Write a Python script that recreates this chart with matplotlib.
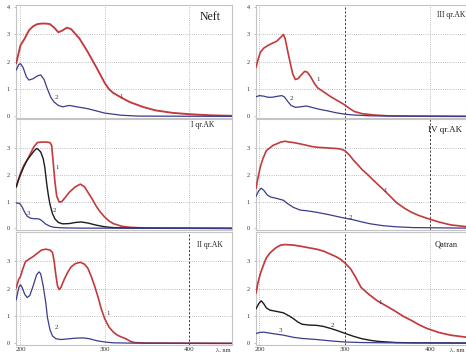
import matplotlib
matplotlib.use("Agg")
import matplotlib.pyplot as plt

plt.rcParams["font.family"] = ["Liberation Serif", "DejaVu Serif"]

# ---- spectra: wavelength (nm) and optical density ----
# Neft
neft_wl_1 = [195, 200, 205, 210, 215, 220, 225, 230, 235, 240, 245, 250, 255, 260, 270, 280, 290, 300,
             305, 310, 320, 330, 345, 360, 380, 400, 425, 451]
neft_od_1 = [1.95, 2.6, 2.85, 3.15, 3.3, 3.38, 3.4, 3.4, 3.38, 3.25, 3.08, 3.15, 3.25, 3.2, 2.85, 2.35, 1.8, 1.22,
             1.0, 0.86, 0.68, 0.52, 0.35, 0.22, 0.13, 0.08, 0.04, 0.02]
neft_wl_2 = [195, 198, 200, 203, 207, 210, 215, 220, 224, 228, 232, 236, 240, 245, 250, 255, 258, 265, 280,
             300, 320, 340, 451]
neft_od_2 = [1.7, 1.9, 1.93, 1.8, 1.45, 1.33, 1.38, 1.48, 1.52, 1.35, 1.0, 0.7, 0.52, 0.4, 0.35, 0.38, 0.4,
             0.36, 0.28, 0.12, 0.04, 0.01, 0.0]

# I qr.AK
ak1_wl_1 = [195, 198, 200, 204, 208, 212, 216, 220, 225, 230, 235, 237, 239, 241, 243, 246, 249, 253, 258,
            265, 271, 276, 280, 285, 290, 295, 300, 305, 310, 320, 330, 350, 451]
ak1_od_1 = [1.55, 1.85, 2.05, 2.35, 2.55, 2.8, 3.05, 3.2, 3.22, 3.22, 3.2, 3.1, 2.4, 1.7, 1.2, 0.98, 1.0, 1.15,
            1.35, 1.55, 1.65, 1.55, 1.35, 1.1, 0.82, 0.6, 0.42, 0.28, 0.18, 0.08, 0.04, 0.01, 0.0]
ak1_wl_2 = [195, 198, 200, 204, 208, 212, 216, 219, 221, 224, 227, 229, 231, 233, 235, 238, 241, 245, 250,
            258, 265, 272, 280, 290, 300, 310, 330, 451]
ak1_od_2 = [1.55, 1.85, 2.0, 2.3, 2.55, 2.72, 2.88, 2.98, 2.95, 2.85, 2.6, 2.25, 1.7, 1.25, 0.9, 0.55, 0.35,
            0.22, 0.17, 0.18, 0.22, 0.24, 0.2, 0.12, 0.06, 0.03, 0.01, 0.0]
ak1_wl_3 = [195, 199, 202, 205, 208, 212, 216, 220, 223, 226, 230, 235, 240, 250, 270, 451]
ak1_od_3 = [0.95, 0.93, 0.8, 0.6, 0.45, 0.38, 0.36, 0.36, 0.34, 0.27, 0.16, 0.08, 0.04, 0.02, 0.01, 0.0]

# II qr.AK
ak2_wl_1 = [195, 198, 200, 203, 206, 210, 215, 220, 225, 230, 235, 238, 240, 242, 244, 246, 248, 252, 256,
            260, 265, 271, 276, 280, 284, 288, 292, 296, 300, 305, 310, 315, 320, 325, 330, 335, 350, 451]
ak2_od_1 = [2.04, 2.35, 2.45, 2.75, 3.0, 3.08, 3.18, 3.3, 3.42, 3.45, 3.42, 3.33, 3.0, 2.5, 2.1, 1.97, 2.05,
            2.35, 2.6, 2.8, 2.92, 2.97, 2.9, 2.75, 2.45, 2.1, 1.7, 1.25, 0.9, 0.6, 0.42, 0.3, 0.23, 0.17, 0.08,
            0.03, 0.01, 0.0]
ak2_wl_2 = [195, 198, 200, 202, 205, 208, 211, 215, 219, 222, 224, 227, 230, 232, 235, 238, 242, 248, 255,
            265, 274, 282, 290, 300, 310, 330, 451]
ak2_od_2 = [1.6, 2.05, 2.15, 2.05, 1.8, 1.68, 1.75, 2.1, 2.5, 2.62, 2.55, 2.1, 1.5, 0.95, 0.5, 0.27, 0.17,
            0.14, 0.16, 0.19, 0.2, 0.17, 0.1, 0.05, 0.02, 0.01, 0.0]

# III qr.AK
ak3_wl_1 = [196, 198, 201, 205, 210, 215, 220, 225, 228, 230, 233, 236, 239, 242, 245, 249, 253, 256, 260,
            264, 268, 275, 283, 290, 299, 305, 311, 320, 334, 350, 380, 444]
ak3_od_1 = [1.8, 2.05, 2.35, 2.5, 2.6, 2.68, 2.75, 2.9, 3.0, 2.85, 2.4, 1.95, 1.55, 1.35, 1.38, 1.52, 1.65,
            1.62, 1.45, 1.22, 1.05, 0.9, 0.73, 0.6, 0.44, 0.3, 0.18, 0.1, 0.05, 0.02, 0.01, 0.0]
ak3_wl_2 = [196, 200, 205, 210, 215, 220, 226, 229, 233, 237, 242, 248, 255, 260, 270, 280, 290, 300, 310,
            330, 360, 444]
ak3_od_2 = [0.72, 0.76, 0.74, 0.7, 0.7, 0.73, 0.76, 0.72, 0.55, 0.4, 0.33, 0.35, 0.38, 0.34, 0.26, 0.2, 0.13,
            0.08, 0.05, 0.02, 0.01, 0.0]

# IV qr.AK
ak4_wl_1 = [196, 198, 201, 204, 208, 212, 216, 220, 225, 230, 235, 240, 248, 255, 262, 270, 280, 290, 295,
            300, 305, 310, 315, 320, 327, 334, 340, 346, 353, 361, 370, 377, 386, 396, 410, 424, 444]
ak4_od_1 = [1.5, 1.85, 2.3, 2.6, 2.9, 3.0, 3.1, 3.15, 3.22, 3.25, 3.22, 3.2, 3.15, 3.1, 3.05, 3.02, 3.0,
            2.98, 2.96, 2.9, 2.75, 2.55, 2.38, 2.2, 2.0, 1.78, 1.6, 1.42, 1.2, 0.95, 0.75, 0.62, 0.49, 0.38,
            0.24, 0.13, 0.06]
ak4_wl_2 = [196, 199, 202, 205, 209, 213, 220, 228, 233, 240, 248, 255, 267, 280, 290, 300, 310, 320, 330,
            345, 360, 380, 410, 444]
ak4_od_2 = [1.2, 1.4, 1.5, 1.42, 1.25, 1.17, 1.12, 1.05, 0.92, 0.78, 0.68, 0.66, 0.6, 0.52, 0.45, 0.38, 0.32,
            0.24, 0.17, 0.1, 0.06, 0.03, 0.02, 0.01]

# Qatran
qat_wl_1 = [196, 198, 201, 205, 208, 212, 216, 220, 225, 230, 240, 248, 258, 267, 275, 283, 290, 295, 300,
            307, 313, 319, 328, 338, 348, 358, 368, 378, 387, 396, 410, 424, 444]
qat_od_1 = [1.85, 2.2, 2.55, 2.9, 3.13, 3.3, 3.42, 3.52, 3.6, 3.62, 3.6, 3.56, 3.5, 3.45, 3.38, 3.27, 3.17,
            3.08, 2.95, 2.72, 2.4, 2.05, 1.8, 1.56, 1.38, 1.2, 1.0, 0.84, 0.68, 0.55, 0.4, 0.3, 0.22]
qat_wl_2 = [196, 199, 202, 205, 208, 212, 220, 228, 235, 240, 245, 250, 258, 267, 275, 283, 290, 299, 310,
            320, 330, 340, 360, 380, 444]
qat_od_2 = [1.27, 1.45, 1.56, 1.45, 1.3, 1.22, 1.17, 1.12, 1.0, 0.9, 0.78, 0.7, 0.67, 0.66, 0.62, 0.55, 0.48,
            0.38, 0.26, 0.17, 0.11, 0.07, 0.03, 0.02, 0.01]
qat_wl_3 = [196, 200, 205, 215, 228, 240, 250, 267, 287, 300, 320, 350, 444]
qat_od_3 = [0.36, 0.4, 0.41, 0.36, 0.3, 0.22, 0.18, 0.14, 0.08, 0.05, 0.03, 0.02, 0.01]

panel_titles = ["Neft", "III qr.AK", "I qr.AK", "IV qr.AK", "II qr.AK", "Qatran"]
x_ticks = [200, 300, 400]
x_tick_labels = ["200", "300", "400"]
y_ticks = [0, 1, 2, 3, 4]
y_tick_labels = ["0", "1", "2", "3", "4"]

RED = "#c23a3c"
BLUE = "#3a3c8c"
BLACK = "#1c1c1c"
GRID = "#a9a9a9"
DARK = "#3c3c3c"

W, H = 466, 352
fig = plt.figure(figsize=(W / 100, H / 100), dpi=100)
fig.patch.set_facecolor("white")


def make_axes(x0, x1, y0, y1):
    return fig.add_axes([x0 / W, 1 - y1 / H, (x1 - x0) / W, (y1 - y0) / H])


cols = [(16, 232, (194.7, 451)), (256, 466, (195.9, 442))]
rows = [(5, 118), (119, 230), (232, 345)]

# which of the 300/400 nm markers are drawn dark-dashed in each panel
dark_lines = {
    (0, 0): [], (0, 1): [300],
    (1, 0): [], (1, 1): [300, 400],
    (2, 0): [400], (2, 1): [300],
}

series = {
    (0, 0): [(neft_wl_1, neft_od_1, RED, 1.35), (neft_wl_2, neft_od_2, BLUE, 0.9)],
    (0, 1): [(ak3_wl_1, ak3_od_1, RED, 1.2), (ak3_wl_2, ak3_od_2, BLUE, 0.9)],
    (1, 0): [(ak1_wl_1, ak1_od_1, RED, 1.2), (ak1_wl_2, ak1_od_2, BLACK, 1.0),
             (ak1_wl_3, ak1_od_3, BLUE, 0.9)],
    (1, 1): [(ak4_wl_1, ak4_od_1, RED, 1.2), (ak4_wl_2, ak4_od_2, BLUE, 0.9)],
    (2, 0): [(ak2_wl_1, ak2_od_1, RED, 1.2), (ak2_wl_2, ak2_od_2, BLUE, 0.9)],
    (2, 1): [(qat_wl_1, qat_od_1, RED, 1.25), (qat_wl_2, qat_od_2, BLACK, 1.0),
             (qat_wl_3, qat_od_3, BLUE, 0.9)],
}

# curve number labels (wavelength, optical density, text)
curve_labels = {
    (0, 0): [(320, 0.71, "1"), (243, 0.68, "2")],
    (0, 1): [(269, 1.35, "1"), (238, 0.66, "2")],
    (1, 0): [(244, 2.28, "1"), (240, 0.67, "2"), (209, 0.56, "3")],
    (1, 1): [(347, 1.42, "1"), (307, 0.41, "2")],
    (2, 0): [(304, 1.11, "1"), (243, 0.59, "2")],
    (2, 1): [(341, 1.49, "1"), (286, 0.65, "2"), (225, 0.47, "3")],
}

# title placement in axes fraction, with horizontal alignment
title_pos = {
    (0, 0): (0.90, 0.89, "center", 8.5),
    (0, 1): (0.862, 0.91, "left", 5.5),
    (1, 0): (0.866, 0.945, "center", 5.5),
    (1, 1): (0.819, 0.90, "left", 6.5),
    (2, 0): (0.90, 0.885, "center", 5.5),
    (2, 1): (0.852, 0.885, "left", 6.0),
}

for r, (ry0, ry1) in enumerate(rows):
    for c, (cx0, cx1, xl) in enumerate(cols):
        ax = make_axes(cx0, cx1, ry0, ry1)
        ax.set_xlim(*xl)
        ax.set_ylim(-0.06, 4.08)
        for s in ax.spines.values():
            s.set_color("#c4c4c4")
            s.set_linewidth(0.8)

        # grid
        for yv in [1, 2, 3]:
            ax.axhline(yv, color=GRID, lw=0.6, ls=(0, (1, 1.6)), zorder=1)
        for xv in x_ticks:
            if xv in dark_lines[(r, c)]:
                ax.axvline(xv, color=DARK, lw=0.7, ls=(0, (2.2, 1.8)), zorder=1)
            else:
                ax.axvline(xv, color=GRID, lw=0.6, ls=(0, (1, 1.6)), zorder=1)

        for wl, od, col, lw in series[(r, c)]:
            ax.plot(wl, od, color=col, lw=lw, zorder=3, solid_joinstyle="round")

        for xv, yv, t in curve_labels[(r, c)]:
            ax.text(xv, yv, t, fontsize=5, color="#333333", ha="center", va="center", zorder=4)

        tx, ty, ha, fs = title_pos[(r, c)]
        ax.text(tx, ty, panel_titles[r * 2 + c], transform=ax.transAxes, fontsize=fs,
                ha=ha, va="center", color="#222222", clip_on=False)

        ax.set_yticks(y_ticks if r == 0 else y_ticks[:-1])
        ax.set_yticklabels(y_tick_labels if r == 0 else y_tick_labels[:-1])
        ax.tick_params(axis="y", length=1.5, width=0.5, color="#aaaaaa", pad=3,
                       labelsize=4.5, labelcolor="#333333")
        if r == 2:
            ax.set_xticks(x_ticks)
            ax.set_xticklabels(x_tick_labels)
            ax.tick_params(axis="x", length=0, pad=1.2, labelsize=5, labelcolor="#333333")
            ax.text(0.995, -0.025, "λ, nm", transform=ax.transAxes,
                    fontsize=4.6, ha="right", va="top", color="#333333", clip_on=False)
        else:
            ax.set_xticks([])

fig.savefig("out.png", dpi=100, facecolor="white")
